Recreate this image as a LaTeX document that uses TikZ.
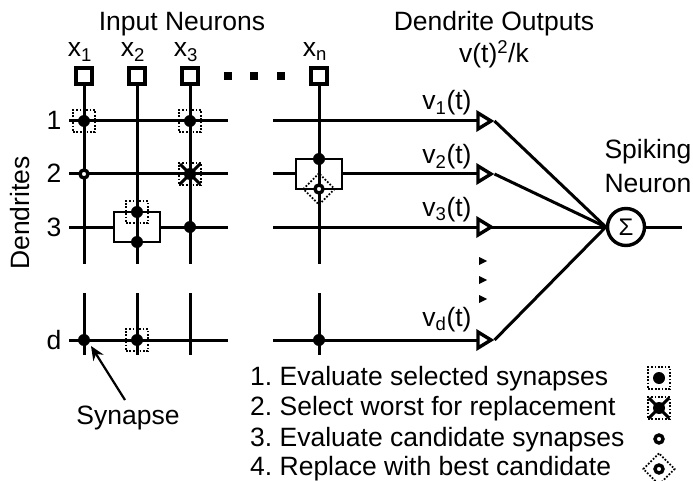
\documentclass[tikz,border=0pt]{standalone}
\usepackage{fontspec}
\setmainfont{Liberation Sans}
\usetikzlibrary{arrows.meta,calc}
\tikzset{
 wire/.style={line width=3pt},
 inbox/.style={draw,line width=3.2pt,fill=white,minimum size=16pt,inner sep=0pt},
 syn/.style={circle,fill=black,minimum size=12pt,inner sep=0pt},
 cand/.style={circle,draw,fill=white,line width=3.4pt,minimum size=8pt,inner sep=0pt},
 sel/.style={draw,line width=1.8pt,dash pattern=on 1.7pt off 1.7pt,minimum size=22pt,inner sep=0pt},
 seldia/.style={sel,rotate=45},
 wbox/.style={draw,line width=2pt,fill=white,minimum width=46pt,minimum height=30pt,inner sep=0pt},
 buf/.style={draw,line width=3.4pt,fill=white,line join=miter},
 lab/.style={inner sep=0pt,anchor=base,font=\fontsize{26.5}{30}\selectfont},
 lefttxt/.style={lab,anchor=base west},
 ell/.style={fill=black,inner sep=0pt,minimum size=8pt},
}
\begin{document}
\frenchspacing
\begin{tikzpicture}[x=1pt,y=-1pt]
\useasboundingbox (0,0) rectangle (693,481);
% titles
\node[lab] (t1) at (182,31) {Input Neurons};
\node[lab] (t2) at (494,31) {Dendrite Outputs};
\node[lab] (t3) at (494,63) {v(t)\textsuperscript{2}/k};
% input names
\foreach \n/\x/\s in {a/80/1,b/133/2,c/186/3,e/315/n}{
  \node[lab] (x\n) at (\x,57) {x\textsubscript{\s}};
}
% verticals
\foreach \x in {84,137,190,319}{
  \draw[wire] (\x,76) -- (\x,264);
  \draw[wire] (\x,293) -- (\x,355);
}
\foreach \n/\x in {a/84,b/137,c/190,e/319}{
  \node[inbox] (in\n) at (\x,76) {};
}
\foreach \x in {228,254,281}{\node[ell] at (\x,76) {};}
% rows
\foreach \r/\y/\t in {1/121/1,2/174/2,3/227/3,4/340/d}{
  \node[lab] (r\r) at (54,\y+9) {\t};
  \coordinate (l\r) at (69,\y);
  \coordinate (m\r) at (228,\y);
  \coordinate (n\r) at (273,\y);
  \coordinate (o\r) at (478,\y);
  \draw[wire] (l\r) -- (m\r);
  \draw[wire] (n\r) -- (o\r);
  \draw[buf] (478,\y-8) -- (491,\y) -- (478,\y+8) -- cycle;
}
% white boxes
\node[wbox] (bx3) at (137,227) {};
\draw[wire] (137,212) -- (137,242);
\node[wbox] (bxn) at (319,174) {};
\draw[wire] (319,159) -- (319,189);
% synapses
\foreach \x/\y in {84/121,190/121,137/212,137/340}{
  \node[sel] at (\x,\y) {};
}
\foreach \x/\y in {84/121,190/121,190/174,190/227,137/212,137/242,319/159,84/340,137/340,319/340}{
  \node[syn] at (\x,\y) {};
}
\node[cand] (c1) at (84,174) {};
\node[sel] (w1) at (190,174) {};
\draw[line width=3pt] (180,164)--(200,184) (180,184)--(200,164);
\node[seldia] (d1) at (319,189) {};
\node[cand] (c2) at (319,189) {};
% outputs
\node[lab] (v1) at (447,110) {v\textsubscript{1}(t)};
\node[lab] (v2) at (447,164) {v\textsubscript{2}(t)};
\node[lab] (v3) at (447,216) {v\textsubscript{3}(t)};
\node[lab] (v4) at (447,326) {v\textsubscript{d}(t)};
\node[circle,draw,line width=3.4pt,fill=white,minimum size=37pt,inner sep=0pt,font=\fontsize{24}{28}\selectfont] (sum) at (626,227) {Σ};
\coordinate (e1) at (494.5,121);
\coordinate (e2) at (494.5,174);
\coordinate (e3) at (491,227);
\coordinate (e4) at (494.5,340);
\draw[wire] (e1) -- (sum.west);
\draw[wire] (e2) -- (sum.west);
\draw[wire] (e3) -- (sum.west);
\draw[wire] (e4) -- (sum.west);
\coordinate (oend) at (682,227);
\draw[wire] (sum.east) -- (oend);
\node[lab] (sp1) at (648,159) {Spiking};
\node[lab] (sp2) at (648,193) {Neuron};
\foreach \y in {261,280,299}{
  \fill (479,\y-4) -- (487,\y) -- (479,\y+4) -- cycle;
}
% dendrites
\node[lab,rotate=90] (dd) at (29,213) {Dendrites};
% synapse label
\node[lab] (slab) at (128,424) {Synapse};
\coordinate (sa) at (91,346);
\coordinate (st) at (125,400);
\draw[line width=2.2pt,-{Stealth[length=14pt,width=12pt]}] (st) -- (sa);
% legend
\node[lefttxt] (k1) at (250,385) {1. Evaluate selected synapses};
\node[lefttxt] (k2) at (250,415) {2. Select worst for replacement};
\node[lefttxt] (k3) at (250,446) {3. Evaluate candidate synapses};
\node[lefttxt] (k4) at (250,475) {4. Replace with best candidate};
\node[sel] at (659,378) {};
\node[syn] at (659,378) {};
\node[sel] at (659,408) {};
\draw[line width=3pt] (649,398)--(669,418) (649,418)--(669,398);
\node[syn] at (659,408) {};
\node[cand] at (659,439) {};
\node[seldia] at (659,469) {};
\node[cand] at (659,469) {};
\end{tikzpicture}
\end{document}
